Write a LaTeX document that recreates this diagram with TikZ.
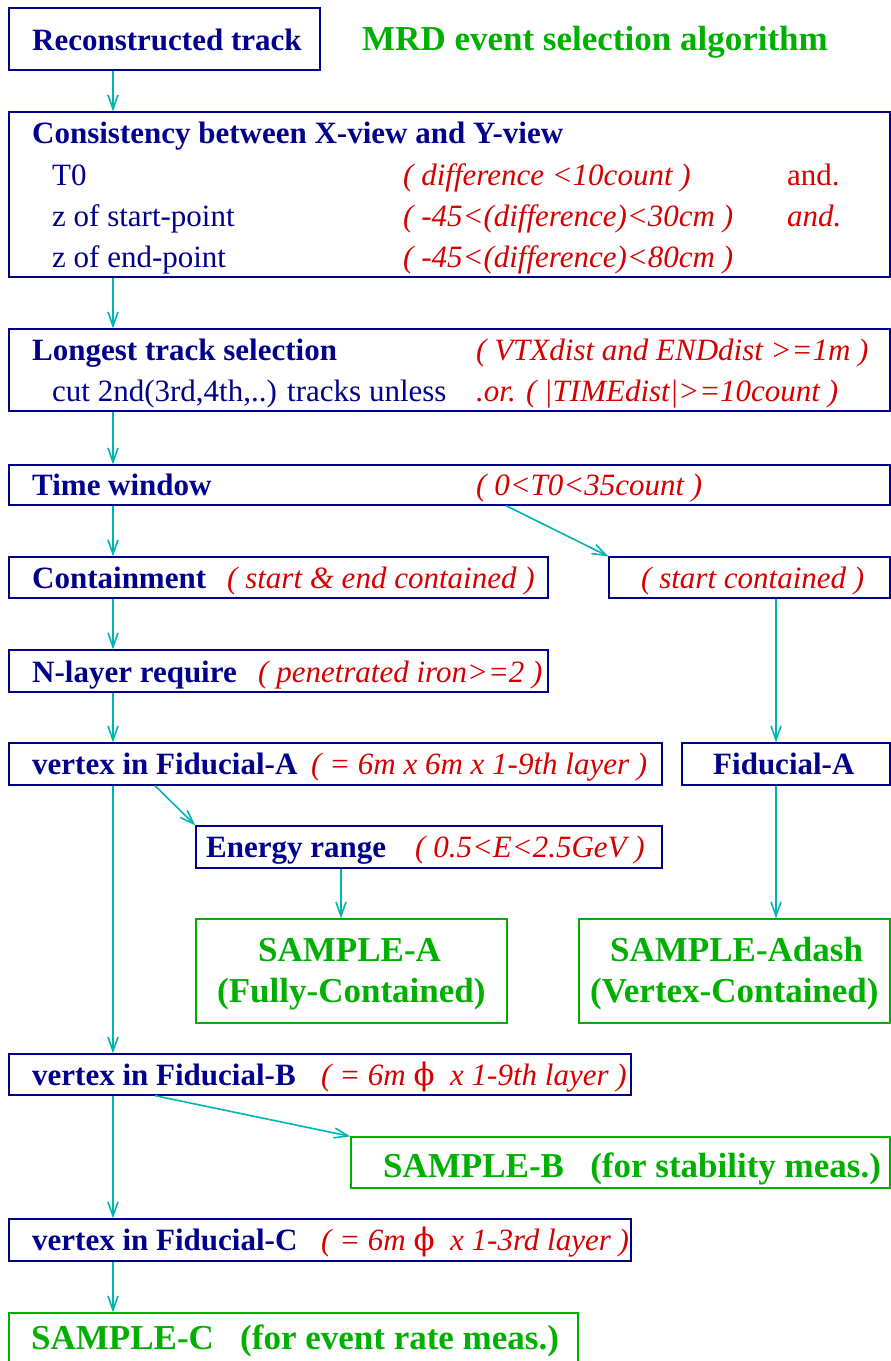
\documentclass[tikz,border=0pt]{standalone}
\usepackage{fontspec}
\setmainfont{Liberation Serif}
\newfontfamily\phifont{DejaVu Serif}
\usetikzlibrary{arrows.meta}
\definecolor{mrdblue}{RGB}{0,0,140}
\definecolor{mrdred}{RGB}{215,0,0}
\definecolor{mrdgreen}{RGB}{0,176,0}
\definecolor{mrdcyan}{RGB}{0,180,180}

\begin{document}
\begin{tikzpicture}[x=1pt, y=-1pt,
    cut/.style={draw=mrdblue, line width=1.3pt, inner sep=0pt, minimum height=41pt},
    sample/.style={draw=mrdgreen, line width=1.3pt, inner sep=0pt},
    head/.style={anchor=base west, inner sep=0pt, text=mrdblue, font=\fontsize{31}{36}\selectfont\bfseries},
    item/.style={anchor=base west, inner sep=0pt, text=mrdblue, font=\fontsize{31}{36}\selectfont},
    cond/.style={anchor=base west, inner sep=0pt, text=mrdred, font=\fontsize{31}{36}\selectfont\itshape},
    result/.style={anchor=base west, inner sep=0pt, text=mrdgreen, font=\fontsize{35}{41}\selectfont\bfseries},
    arr/.style={-{Straight Barb[length=14pt,width=10pt]}, line width=1.6pt, mrdcyan}
]
\useasboundingbox (0,0) rectangle (891,1361);

% boxes
\node[cut, minimum width=311pt, minimum height=62pt] (rec) at (164.5,39) {};
\node[cut, minimum width=881pt, minimum height=165pt] (cons) at (449.5,194.5) {};
\node[cut, minimum width=881pt, minimum height=82pt] (long) at (449.5,370) {};
\node[cut, minimum width=881pt, minimum height=40pt] (time) at (449.5,485) {};
\node[cut, minimum width=539pt] (cont) at (278.5,577.5) {};
\node[cut, minimum width=281pt] (startc) at (749.5,577.5) {};
\node[cut, minimum width=539pt, minimum height=42pt] (nlay) at (278.5,671) {};
\node[cut, minimum width=653pt, minimum height=42pt] (fida) at (335.5,764) {};
\node[cut, minimum width=208pt, minimum height=42pt] (fidar) at (786,764) {};
\node[cut, minimum width=466pt, minimum height=42pt] (energy) at (429,847) {};
\node[sample, minimum width=311pt, minimum height=104pt] (sa) at (351.5,971) {};
\node[sample, minimum width=311pt, minimum height=104pt] (sad) at (734.5,971) {};
\node[cut, minimum width=622pt] (fidb) at (320,1074.5) {};
\node[sample, minimum width=539pt, minimum height=51pt] (sb) at (620.5,1162.5) {};
\node[cut, minimum width=622pt, minimum height=42pt] (fidc) at (320,1240) {};
\node[sample, minimum width=569pt, minimum height=52pt] (sc) at (293.5,1339) {};

% texts
\node[head] (rec-t) at (32,50) {Reconstructed track};
\node[result] (title) at (362,50) {MRD event selection algorithm};
\node[head] (cons-t) at (32,143) {Consistency between X-view and Y-view};
\node[item] (t0) at (52,185) {T0};
\node[cond] (t0-c) at (403,185) {( difference <10count )};
\node[cond, font=\fontsize{31}{36}\selectfont] (t0-and) at (787,185) {and.};
\node[item] (zs) at (52,226) {z of start-point};
\node[cond] (zs-c) at (403,226) {( -45<(difference)<30cm )};
\node[cond] (zs-and) at (787,226) {and.};
\node[item] (ze) at (52,267) {z of end-point};
\node[cond] (ze-c) at (403,267) {( -45<(difference)<80cm )};
\node[head] (long-t) at (32,360) {Longest track selection};
\node[cond] (long-c) at (476,360) {( VTXdist and ENDdist >=1m )};
\node[item] (cut-t) at (52,401) {cut 2nd(3rd,4th,..) tracks unless};
\node[cond] (cut-c) at (476,401) {.or. ( |TIMEdist|>=10count )};
\node[head] (time-t) at (32,495) {Time window};
\node[cond] (time-c) at (476,495) {( 0<T0<35count )};
\node[head] (cont-t) at (32,588) {Containment};
\node[cond] (cont-c) at (227,588) {( start \& end contained )};
\node[cond] (startc-t) at (641,588) {( start contained )};
\node[head] (nlay-t) at (32,682) {N-layer require};
\node[cond] (nlay-c) at (258,682) {( penetrated iron>=2 )};
\node[head] (fida-t) at (32,774) {vertex in Fiducial-A};
\node[cond] (fida-c) at (311,774) {( = 6m x 6m x 1-9th layer )};
\node[head] (fidar-t) at (713,774) {Fiducial-A};
\node[head] (energy-t) at (206,857) {Energy range};
\node[cond] (energy-c) at (415,857) {( 0.5<E<2.5GeV )};
\node[result] (sa-t1) at (258,961) {SAMPLE-A};
\node[result] (sa-t2) at (217,1002) {(Fully-Contained)};
\node[result] (sad-t1) at (610,961) {SAMPLE-Adash};
\node[result] (sad-t2) at (590,1002) {(Vertex-Contained)};
\node[head] (fidb-t) at (32,1085) {vertex in Fiducial-B};
\node[cond] (fidb-c) at (321,1085) {( = 6m {\upshape\phifont ϕ}~ x 1-9th layer )};
\node[result] (sb-t) at (383,1177) {SAMPLE-B\ \ \ (for stability meas.)};
\node[head] (fidc-t) at (32,1250) {vertex in Fiducial-C};
\node[cond] (fidc-c) at (321,1250) {( = 6m {\upshape\phifont ϕ}~ x 1-3rd layer )};
\node[result] (sc-t) at (31,1349) {SAMPLE-C\ \ \ (for event rate meas.)};

% connectors
\coordinate (spine) at (113,0);
\coordinate (rspine) at (776,0);
\coordinate (espine) at (341,0);
\coordinate (tsplit) at (506,0);
\coordinate (vsplit) at (155,0);
\draw[arr] (spine |- rec.south) -- (spine |- cons.north);
\draw[arr] (spine |- cons.south) -- (spine |- long.north);
\draw[arr] (spine |- long.south) -- (spine |- time.north);
\draw[arr] (spine |- time.south) -- (spine |- cont.north);
\draw[arr] (tsplit |- time.south) -- (startc.north west);
\draw[arr] (spine |- cont.south) -- (spine |- nlay.north);
\draw[arr] (spine |- nlay.south) -- (spine |- fida.north);
\draw[arr] (rspine |- startc.south) -- (rspine |- fidar.north);
\draw[arr] (vsplit |- fida.south) -- (energy.north west);
\draw[arr] (espine |- energy.south) -- (espine |- sa.north);
\draw[arr] (rspine |- fidar.south) -- (rspine |- sad.north);
\draw[arr] (spine |- fida.south) -- (spine |- fidb.north);
\draw[arr] (vsplit |- fidb.south) -- (sb.north west);
\draw[arr] (spine |- fidb.south) -- (spine |- fidc.north);
\draw[arr] (spine |- fidc.south) -- (spine |- sc.north);
\end{tikzpicture}
\end{document}
